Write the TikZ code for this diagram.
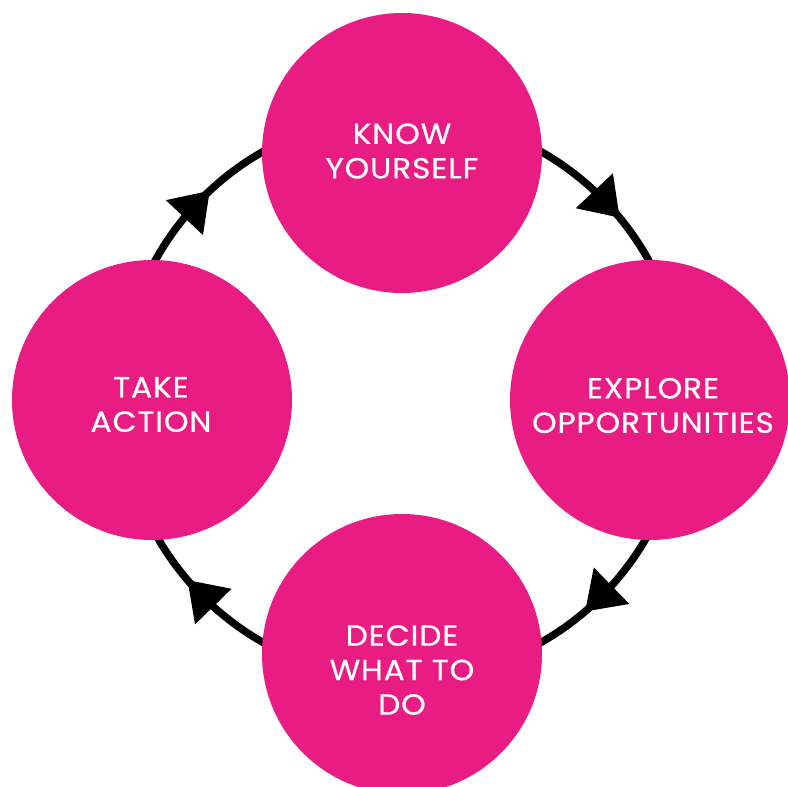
\documentclass[tikz,border=0pt]{standalone}
\usepackage{fontspec}
\setmainfont{Poppins}[FakeStretch=1.08,LetterSpace=3,FakeBold=0.5]
\usetikzlibrary{calc}
\definecolor{cyclepink}{HTML}{E81C83}
\tikzset{
  stage/.style={circle, fill=cyclepink, minimum size=280pt, inner sep=0pt},
  stagetext/.style={text=white, align=center, inner sep=0pt,
    font=\fontsize{29}{34.5}\selectfont},
  ring/.style={line width=7.5pt, draw=black},
  tipfill/.style={fill=black}
}
\newcommand{\cyclearrow}[2]{%
  \coordinate (b) at ($(C)+(#1:282pt)$);
  \coordinate (t) at ($(C)+(#2:282pt)$);
  \fill[tipfill] ($(b)!25.5pt!90:(t)$) -- (t) -- ($(b)!25.5pt!-90:(t)$) -- cycle;
}
\begin{document}
\begin{tikzpicture}[x=1pt,y=-1pt]
  \useasboundingbox (0,0) rectangle (788,787);
  \clip (0,0) rectangle (788,787);
  \coordinate (C) at (402,397);
  \draw[ring] (C) circle[radius=282pt];
  \cyclearrow{47}{39.5}
  \cyclearrow{-42}{-49.5}
  \cyclearrow{228}{220.5}
  \cyclearrow{140.5}{133}
  \node[stage] (know) at (402,153) {};
  \node[stage] (explore) at (650,400) {};
  \node[stage] (decide) at (402,654) {};
  \node[stage] (take) at (152,400) {};
  \node[stagetext] (knowt) at (402,151) {KNOW\\YOURSELF};
  \node[stagetext] (exploret) at (653,405.5) {EXPLORE\\OPPORTUNITIES};
  \node[stagetext] (decidet) at (402,670) {DECIDE\\WHAT TO\\DO};
  \node[stagetext] (taket) at (151,404.5) {TAKE\\ACTION};
\end{tikzpicture}
\end{document}
